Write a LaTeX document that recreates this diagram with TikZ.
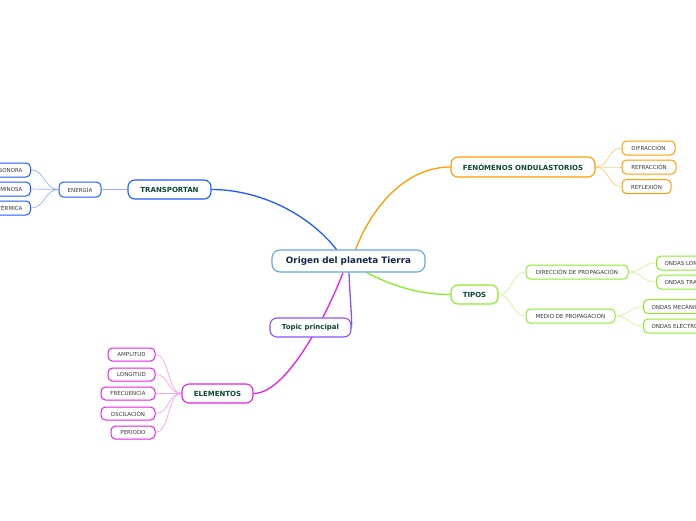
\documentclass[tikz,border=0pt]{standalone}
\usepackage{fontspec}
\setmainfont{DejaVu Sans}
\usetikzlibrary{calc}
\pgfdeclarelayer{bg}
\pgfsetlayers{bg,main}
\definecolor{cenB}{RGB}{100,165,225}
\definecolor{cenT}{RGB}{22,38,72}
\definecolor{mainT}{RGB}{12,72,56}
\definecolor{leafT}{RGB}{55,55,55}
\definecolor{bl}{RGB}{30,90,255}
\definecolor{blL}{RGB}{150,175,255}
\definecolor{og}{RGB}{255,155,0}
\definecolor{ogL}{RGB}{255,205,130}
\definecolor{gr}{RGB}{140,235,40}
\definecolor{grL}{RGB}{205,245,160}
\definecolor{pu}{RGB}{140,80,255}
\definecolor{mg}{RGB}{230,30,230}
\definecolor{mgL}{RGB}{245,165,245}
\tikzset{
  cenbox/.style={draw=cenB, line width=1.1pt, fill=white, rounded corners=8pt,
    minimum width=153pt, minimum height=22pt, inner sep=0pt,
    text=cenT, font=\fontsize{8.8}{10}\selectfont\bfseries},
  mainbox/.style={draw=#1, line width=1.1pt, fill=white, rounded corners=7pt,
    minimum height=19pt, inner sep=0pt, text=mainT,
    font=\fontsize{7}{8}\selectfont\bfseries},
  leafbox/.style={draw=#1, line width=1pt, fill=white, rounded corners=4.5pt,
    minimum height=14pt, inner ysep=0pt, inner xsep=8pt, text=leafT,
    font=\fontsize{5.5}{6}\selectfont},
  mainline/.style={draw=#1, line width=1.3pt},
  subline/.style={draw=#1, line width=0.7pt},
}
\begin{document}
\begin{tikzpicture}[x=1pt,y=-1pt]
\useasboundingbox (0,0) rectangle (696,520);
\clip (0,0) rectangle (696,520);
% central
\node[cenbox] (c) at (348.5,261) {Origen del planeta Tierra};
% main branches
\node[mainbox=bl, minimum width=83pt] (tr) at (169.5,189.5) {TRANSPORTAN};
\node[mainbox=og, minimum width=144pt, minimum height=20pt] (fe) at (523,167) {FENÓMENOS ONDULASTORIOS};
\node[mainbox=gr, minimum width=47pt] (ti) at (474.5,294.5) {TIPOS};
\node[mainbox=pu, minimum width=81pt] (tp) at (310.5,327.5) {Topic principal};
\node[mainbox=mg, minimum width=71pt] (el) at (217.5,393.5) {ELEMENTOS};
% sub nodes
\node[leafbox=bl, minimum width=42pt, minimum height=15pt, inner xsep=0pt] (en) at (80,189.5) {ENERGÍA};
\node[leafbox=bl, anchor=east] (so) at (31,170) {SONORA};
\node[leafbox=bl, anchor=east] (lu) at (31,189) {LUMINOSA};
\node[leafbox=bl, anchor=east] (te) at (31,208) {TÉRMICA};
\node[leafbox=og, minimum width=53pt, inner xsep=0pt] (di) at (648.5,148) {DIFRACCIÓN};
\node[leafbox=og, minimum width=54pt, inner xsep=0pt] (rf) at (649,167) {REFRACCIÓN};
\node[leafbox=og, minimum width=49pt, inner xsep=0pt] (rx) at (646.5,186.5) {REFLEXIÓN};
\node[leafbox=gr, minimum width=102pt, inner xsep=0pt] (dp) at (577,272) {DIRECCIÓN DE PROPAGACIÓN};
\node[leafbox=gr, minimum width=89pt, inner xsep=0pt] (mp) at (570.5,316) {MEDIO DE PROPAGACIÓN};
\node[leafbox=gr, anchor=west] (ol) at (656,263) {ONDAS LONGITUDINALES};
\node[leafbox=gr, anchor=west] (ot) at (656,282) {ONDAS TRANSVERSALES};
\node[leafbox=gr, anchor=west] (om) at (643,306.5) {ONDAS MECÁNICAS};
\node[leafbox=gr, anchor=west] (oe) at (643,326) {ONDAS ELÉCTROMAGNÉTICAS};
\node[leafbox=mg, minimum width=47pt, minimum height=13pt, inner xsep=0pt] (am) at (131.5,354.5) {AMPLITUD};
\node[leafbox=mg, minimum width=47pt, minimum height=13pt, inner xsep=0pt] (lo) at (131.5,374.5) {LONGITUD};
\node[leafbox=mg, minimum width=54pt, minimum height=13pt, inner xsep=0pt] (fr) at (128,393.5) {FRECUENCIA};
\node[leafbox=mg, minimum width=54pt, minimum height=13pt, inner xsep=0pt] (os) at (128,413.5) {OSCILACIÓN};
\node[leafbox=mg, minimum width=44pt, minimum height=13pt, inner xsep=0pt] (pe) at (133,432.5) {PERIODO};
\begin{pgfonlayer}{bg}
% main connectors
\path[mainline=bl] ($(c.north)+(-12,0)$) .. controls (305,210) and (255,189.5) .. (tr.east);
\path[mainline=og] ($(c.north)+(7,0)$) .. controls (375,200) and (410,167) .. (fe.west);
\path[mainline=gr] ($(c.south)+(18,0)$) .. controls (395,287) and (420,294.5) .. (ti.west);
\path[mainline=pu] ($(c.south)+(0.5,0)$) .. controls (350,300) and (352,315) .. (tp.east);
\path[mainline=mg] ($(c.south)+(-5.5,0)$) .. controls (333,300) and (290,393.5) .. (el.east);
% sub connectors
\foreach \t in {so,lu,te}
  \path[subline=blL] (en.west) .. controls +(-14,0) and +(14,0) .. (\t.east);
\path[subline=blL] (tr.west) -- (en.east);
\foreach \t in {di,rf,rx}
  \path[subline=ogL] (fe.east) .. controls +(14,0) and +(-14,0) .. (\t.west);
\foreach \t in {dp,mp}
  \path[subline=grL] (ti.east) .. controls +(14,0) and +(-14,0) .. (\t.west);
\foreach \t in {ol,ot}
  \path[subline=grL] (dp.east) .. controls +(14,0) and +(-14,0) .. (\t.west);
\foreach \t in {om,oe}
  \path[subline=grL] (mp.east) .. controls +(14,0) and +(-14,0) .. (\t.west);
\foreach \t in {am,lo,fr,os,pe}
  \path[subline=mgL] (el.west) .. controls +(-14,0) and +(14,0) .. (\t.east);
\end{pgfonlayer}
\end{tikzpicture}
\end{document}
